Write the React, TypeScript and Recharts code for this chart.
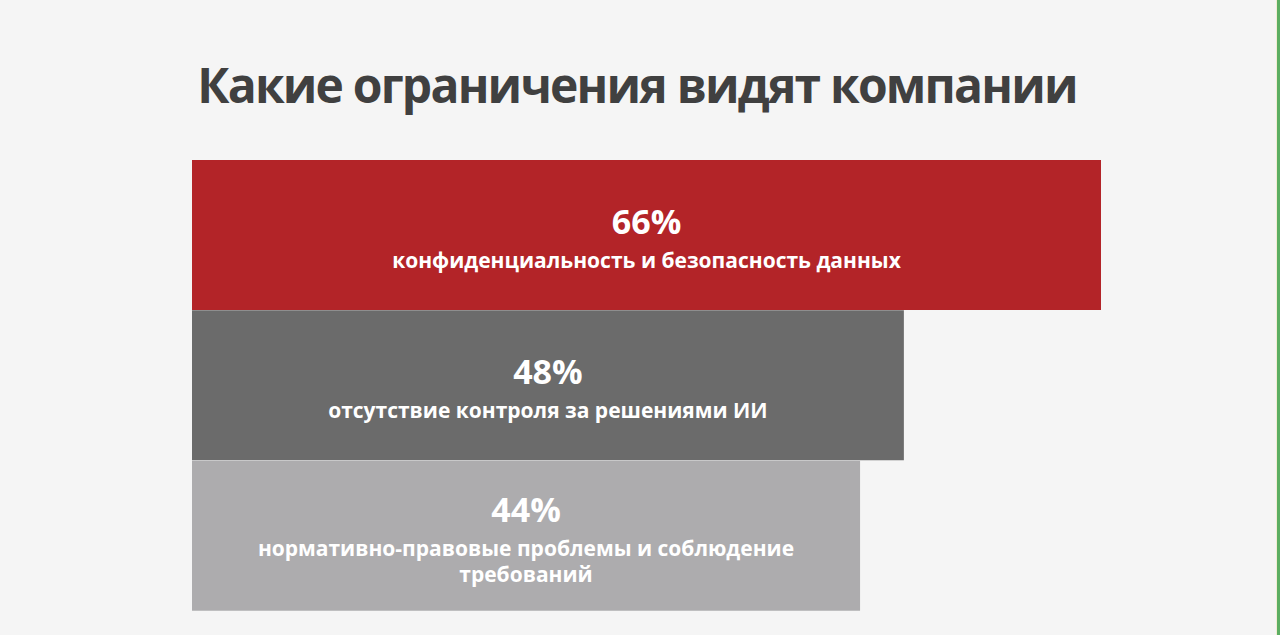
import React from 'react';
import { BarChart, Bar, XAxis, YAxis, Cell, LabelList } from 'recharts';

const title = 'Какие ограничения видят компании';
const categories = [
  'конфиденциальность и безопасность данных',
  'отсутствие контроля за решениями ИИ',
  'нормативно-правовые проблемы и соблюдение\nтребований',
];
const shares = [66, 48, 44];
// the slide's bars are not drawn to scale, so the hidden axis starts below zero
const axisFloor = -17;

const barColors = ['#b32428', '#6b6b6b', '#adacae'];
const font = '"Open Sans", sans-serif';

const data = categories.map((name, i) => ({
  name,
  share: shares[i],
  range: [axisFloor, shares[i]],
}));

function BarText(props: any) {
  const { x, y, width, height, index } = props;
  const row = data[index];
  const lines = row.name.split('\n');
  const cx = x + width / 2;
  const span = 34 + 26 * (lines.length - 1);
  const top = y + height / 2 + 16 - span / 2;
  return (
    <g fill="#ffffff" fontFamily={font} fontWeight={700} textAnchor="middle">
      <text x={cx} y={top} fontSize={34}>{row.share}%</text>
      {lines.map((line: string, i: number) => (
        <text key={i} x={cx} y={top + 34 + 26 * i} fontSize={21}>{line}</text>
      ))}
    </g>
  );
}

export default function App() {
  return (
    <div style={{ position: 'fixed', left: 0, top: 0, width: 1280, height: 635, background: '#f5f5f5', overflow: 'hidden' }}>
      <svg width={1280} height={130} style={{ position: 'absolute', left: 0, top: 0 }}>
        <text x={637} y={103} textAnchor="middle" fontFamily={font} fontWeight={700} fontSize={48} letterSpacing={-1.8} fill="#404040">
          {title}
        </text>
      </svg>
      <div style={{ position: 'absolute', left: 192, top: 160 }}>
        <BarChart width={909} height={451} data={data} layout="vertical" barCategoryGap={0} margin={{ top: 0, right: 0, left: 0, bottom: 0 }}>
          <XAxis type="number" domain={[axisFloor, Math.max(...shares)]} hide />
          <YAxis type="category" dataKey="name" hide width={0} />
          <Bar dataKey="range" isAnimationActive={false}>
            {data.map((d, i) => (
              <Cell key={d.name} fill={barColors[i]} />
            ))}
            <LabelList dataKey="name" content={<BarText />} />
          </Bar>
        </BarChart>
      </div>
      <div style={{ position: 'absolute', left: 1276, top: 0, width: 1, height: 635, background: '#f3ecd2' }} />
      <div style={{ position: 'absolute', left: 1277, top: 0, width: 3, height: 635, background: '#5cae62' }} />
    </div>
  );
}
